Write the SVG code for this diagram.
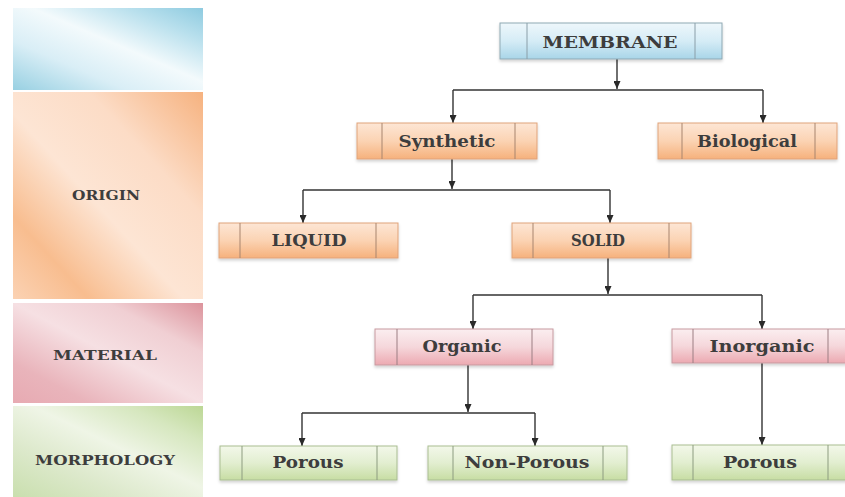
<svg xmlns="http://www.w3.org/2000/svg" width="845" height="497" viewBox="0 0 845 497">
<defs>
<linearGradient id="pBlue" x1="0" y1="1" x2="1" y2="0">
<stop offset="0" stop-color="#98d0e2"/><stop offset="0.3" stop-color="#d9eef6"/><stop offset="0.55" stop-color="#f3fafc"/><stop offset="0.8" stop-color="#b9e0ed"/><stop offset="1" stop-color="#8ecbe0"/>
</linearGradient>
<linearGradient id="pOrange" x1="0" y1="1" x2="1" y2="0">
<stop offset="0" stop-color="#fbd2b3"/><stop offset="0.2" stop-color="#f8bd8f"/><stop offset="0.45" stop-color="#fde5d4"/><stop offset="0.7" stop-color="#fcdcc6"/><stop offset="1" stop-color="#f6b27f"/>
</linearGradient>
<linearGradient id="pPink" x1="0" y1="1" x2="1" y2="0">
<stop offset="0" stop-color="#e7aab2"/><stop offset="0.2" stop-color="#e9b4bb"/><stop offset="0.5" stop-color="#f6e0e3"/><stop offset="0.75" stop-color="#f0cfd3"/><stop offset="1" stop-color="#dc939c"/>
</linearGradient>
<linearGradient id="pGreen" x1="0" y1="1" x2="1" y2="0">
<stop offset="0" stop-color="#c9dfae"/><stop offset="0.3" stop-color="#dde9cc"/><stop offset="0.55" stop-color="#eff5e6"/><stop offset="0.8" stop-color="#d6e7bf"/><stop offset="1" stop-color="#bcd795"/>
</linearGradient>
<linearGradient id="gBlue" x1="0" y1="0" x2="0" y2="1">
<stop offset="0" stop-color="#eef7fb"/><stop offset="0.5" stop-color="#d5ecf6"/><stop offset="1" stop-color="#a8d5e8"/>
</linearGradient>
<linearGradient id="gOrange" x1="0" y1="0" x2="0" y2="1">
<stop offset="0" stop-color="#fde6d5"/><stop offset="0.5" stop-color="#fbd3b3"/><stop offset="1" stop-color="#f6b17c"/>
</linearGradient>
<linearGradient id="gPink" x1="0" y1="0" x2="0" y2="1">
<stop offset="0" stop-color="#fbeef0"/><stop offset="0.5" stop-color="#f5d7db"/><stop offset="1" stop-color="#eca9b1"/>
</linearGradient>
<linearGradient id="gGreen" x1="0" y1="0" x2="0" y2="1">
<stop offset="0" stop-color="#f3f8ea"/><stop offset="0.5" stop-color="#e2eed0"/><stop offset="1" stop-color="#c7dda3"/>
</linearGradient>
<filter id="sh" x="-5%" y="-20%" width="110%" height="150%">
<feDropShadow dx="0" dy="2" stdDeviation="1.5" flood-color="#000" flood-opacity="0.18"/>
</filter>
<marker id="arr" viewBox="0 0 8 8" refX="4" refY="8" markerWidth="8" markerHeight="8" markerUnits="userSpaceOnUse" orient="auto-start-reverse">
<path d="M0,2 L8,2 L4,8 Z" fill="#2a2a2a" transform="rotate(-90 4 4)"/>
</marker>
<marker id="tip" viewBox="0 0 8 7" refX="8" refY="3.5" markerWidth="8" markerHeight="7" markerUnits="userSpaceOnUse" orient="auto">
<path d="M0,0 L8,3.5 L0,7 Z" fill="#2a2a2a"/>
</marker>
</defs>
<style>
.lbl{font-family:"DejaVu Serif","Liberation Serif",serif;font-weight:bold;fill:#3d3d3d;}
.node{font-size:16px;}
.side{font-size:12px;}
.box{stroke-width:1;}
.div{stroke-width:1;fill:none;}
.bB{fill:url(#gBlue);stroke:#8fa9b4;}
.bO{fill:url(#gOrange);stroke:#e0a37a;}
.bP{fill:url(#gPink);stroke:#c79aa0;}
.bG{fill:url(#gGreen);stroke:#a9bd92;}
.dB{stroke:#8a9ea8;}
.dO{stroke:#a8856f;}
.dP{stroke:#9c7f83;}
.dG{stroke:#8d9c80;}
.con{stroke:#333;stroke-width:1.4;fill:none;}
.ar{marker-end:url(#tip);}
</style>
<rect width="845" height="497" fill="#ffffff"/>

<g id="panels">
<rect x="13" y="8" width="190" height="82" fill="url(#pBlue)"/>
<rect x="13" y="92" width="190" height="207" fill="url(#pOrange)"/>
<rect x="13" y="303" width="190" height="100" fill="url(#pPink)"/>
<rect x="13" y="406" width="190" height="91" fill="url(#pGreen)"/>
<text class="lbl side" x="106" y="200" text-anchor="middle" textLength="68" lengthAdjust="spacingAndGlyphs">ORIGIN</text>
<text class="lbl side" x="105" y="360" text-anchor="middle" textLength="104" lengthAdjust="spacingAndGlyphs">MATERIAL</text>
<text class="lbl side" x="105" y="465" text-anchor="middle" textLength="140" lengthAdjust="spacingAndGlyphs">MORPHOLOGY</text>
</g>

<g id="connectors">
<path class="con ar" d="M617,59 V89"/>
<path class="con" d="M453,90 H763"/>
<path class="con ar" d="M453,90 V123"/>
<path class="con ar" d="M763,90 V123"/>
<path class="con ar" d="M452,159 V189"/>
<path class="con" d="M303,190 H610"/>
<path class="con ar" d="M303,190 V223"/>
<path class="con ar" d="M610,190 V223"/>
<path class="con ar" d="M608,258 V294"/>
<path class="con" d="M473,295 H762"/>
<path class="con ar" d="M473,295 V329"/>
<path class="con ar" d="M762,295 V329"/>
<path class="con ar" d="M468,365 V412"/>
<path class="con" d="M302,413 H535"/>
<path class="con ar" d="M302,413 V446"/>
<path class="con ar" d="M535,413 V446"/>
<path class="con ar" d="M762,363 V445"/>
</g>

<g id="membrane">
<rect class="box bB" x="500" y="23" width="222" height="36" filter="url(#sh)"/>
<path class="div dB" d="M527,23 V59 M695,23 V59"/>
<text class="lbl node" x="610" y="48" text-anchor="middle" textLength="135" lengthAdjust="spacingAndGlyphs">MEMBRANE</text>
</g>
<g id="synthetic">
<rect class="box bO" x="357" y="123" width="180" height="36" filter="url(#sh)"/>
<path class="div dO" d="M382,123 V159 M515,123 V159"/>
<text class="lbl node" x="447" y="147" text-anchor="middle" textLength="97" lengthAdjust="spacingAndGlyphs">Synthetic</text>
</g>
<g id="biological">
<rect class="box bO" x="658" y="123" width="179" height="36" filter="url(#sh)"/>
<path class="div dO" d="M682,123 V159 M815,123 V159"/>
<text class="lbl node" x="747" y="147" text-anchor="middle" textLength="100" lengthAdjust="spacingAndGlyphs">Biological</text>
</g>
<g id="liquid">
<rect class="box bO" x="219" y="223" width="179" height="35" filter="url(#sh)"/>
<path class="div dO" d="M240,223 V258 M376,223 V258"/>
<text class="lbl node" x="309" y="246" text-anchor="middle" textLength="75" lengthAdjust="spacingAndGlyphs">LIQUID</text>
</g>
<g id="solid">
<rect class="box bO" x="512" y="223" width="179" height="35" filter="url(#sh)"/>
<path class="div dO" d="M533,223 V258 M669,223 V258"/>
<text class="lbl node" x="598" y="246" text-anchor="middle" textLength="54" lengthAdjust="spacingAndGlyphs">SOLID</text>
</g>
<g id="organic">
<rect class="box bP" x="375" y="329" width="178" height="36" filter="url(#sh)"/>
<path class="div dP" d="M397,329 V365 M532,329 V365"/>
<text class="lbl node" x="462" y="352" text-anchor="middle" textLength="79" lengthAdjust="spacingAndGlyphs">Organic</text>
</g>
<g id="inorganic">
<rect class="box bP" x="672" y="329" width="180" height="34" filter="url(#sh)"/>
<path class="div dP" d="M693,329 V363 M828,329 V363"/>
<text class="lbl node" x="762" y="352" text-anchor="middle" textLength="105" lengthAdjust="spacingAndGlyphs">Inorganic</text>
</g>
<g id="porous1">
<rect class="box bG" x="220" y="446" width="177" height="34" filter="url(#sh)"/>
<path class="div dG" d="M242,446 V480 M377,446 V480"/>
<text class="lbl node" x="308" y="468" text-anchor="middle" textLength="71" lengthAdjust="spacingAndGlyphs">Porous</text>
</g>
<g id="nonporous">
<rect class="box bG" x="428" y="446" width="199" height="34" filter="url(#sh)"/>
<path class="div dG" d="M453,446 V480 M603,446 V480"/>
<text class="lbl node" x="527" y="468" text-anchor="middle" textLength="125" lengthAdjust="spacingAndGlyphs">Non-Porous</text>
</g>
<g id="porous2">
<rect class="box bG" x="672" y="445" width="180" height="35" filter="url(#sh)"/>
<path class="div dG" d="M693,445 V480 M828,445 V480"/>
<text class="lbl node" x="760" y="468" text-anchor="middle" textLength="74" lengthAdjust="spacingAndGlyphs">Porous</text>
</g>
</svg>
